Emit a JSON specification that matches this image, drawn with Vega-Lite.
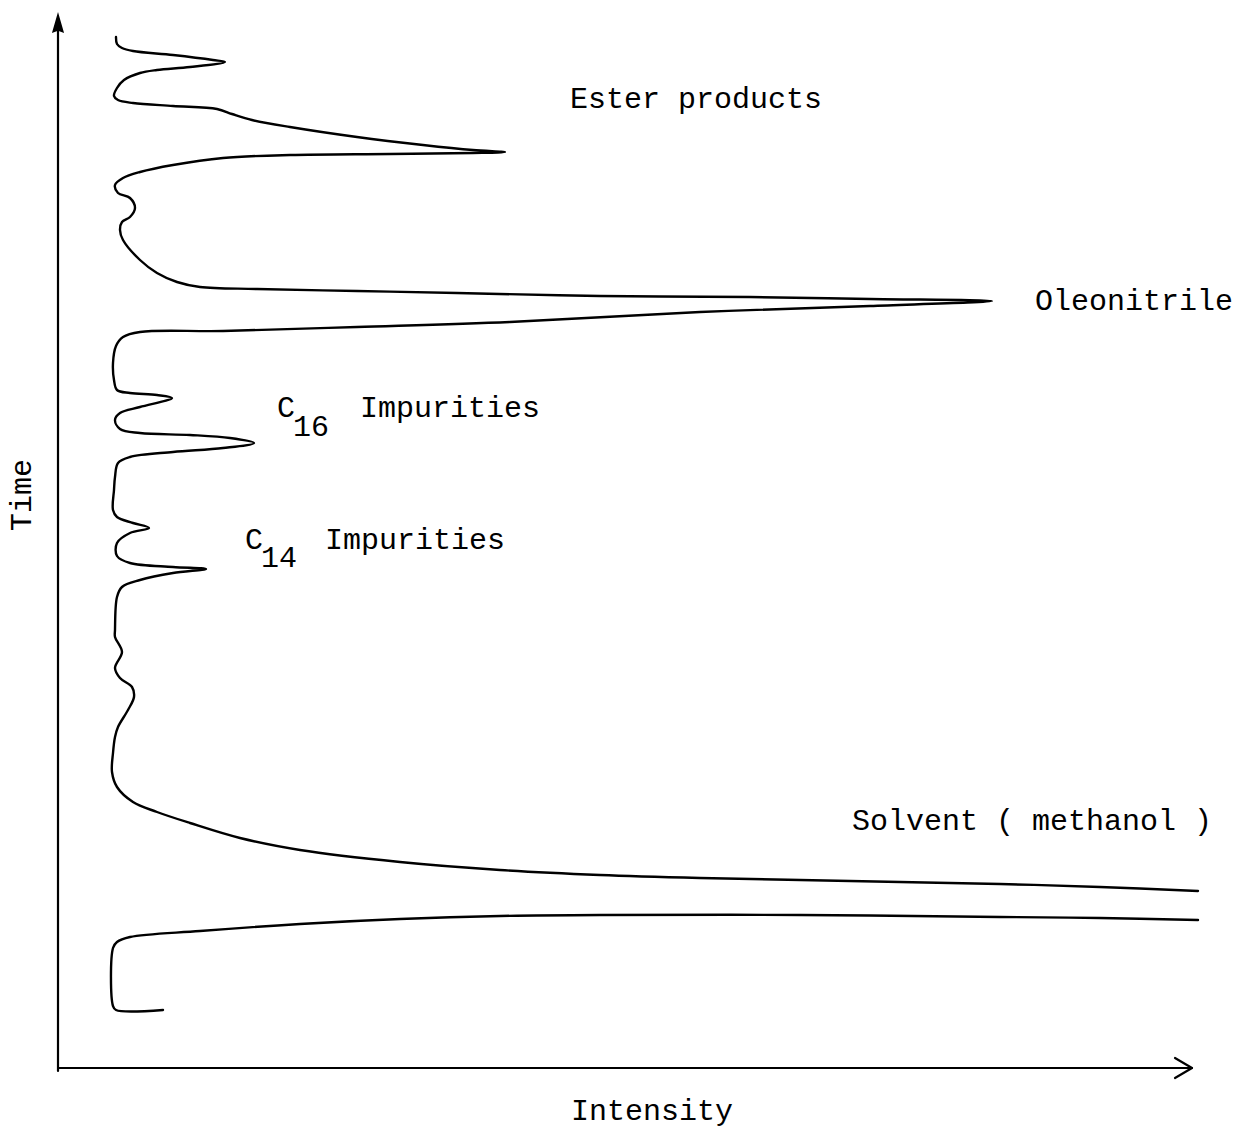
{
  "$schema": "https://vega.github.io/schema/vega-lite/v6.json",
  "width": 1242,
  "height": 1131,
  "autosize": {"type": "fit", "contains": "padding"},
  "padding": 0,
  "background": "white",
  "config": {"view": {"stroke": null}},
  "datasets": {
    "trace": [
      {"seg": "a", "i": 1, "intensity": 58, "time": 1031},
      {"seg": "a", "i": 2, "intensity": 59, "time": 1024},
      {"seg": "a", "i": 3, "intensity": 64, "time": 1020},
      {"seg": "a", "i": 4, "intensity": 75, "time": 1017},
      {"seg": "a", "i": 5, "intensity": 115, "time": 1013},
      {"seg": "a", "i": 6, "intensity": 155, "time": 1008},
      {"seg": "a", "i": 7, "intensity": 167, "time": 1006},
      {"seg": "a", "i": 8, "intensity": 132, "time": 1001},
      {"seg": "a", "i": 9, "intensity": 99, "time": 998},
      {"seg": "a", "i": 10, "intensity": 82, "time": 995},
      {"seg": "a", "i": 11, "intensity": 66, "time": 988},
      {"seg": "a", "i": 12, "intensity": 59, "time": 980},
      {"seg": "a", "i": 13, "intensity": 56, "time": 972},
      {"seg": "a", "i": 14, "intensity": 60, "time": 968},
      {"seg": "a", "i": 15, "intensity": 75, "time": 965},
      {"seg": "a", "i": 16, "intensity": 115, "time": 962},
      {"seg": "a", "i": 17, "intensity": 159, "time": 959},
      {"seg": "a", "i": 18, "intensity": 174, "time": 954},
      {"seg": "a", "i": 19, "intensity": 194, "time": 948},
      {"seg": "a", "i": 20, "intensity": 232, "time": 941},
      {"seg": "a", "i": 21, "intensity": 299, "time": 931},
      {"seg": "a", "i": 22, "intensity": 365, "time": 923},
      {"seg": "a", "i": 23, "intensity": 415, "time": 918},
      {"seg": "a", "i": 24, "intensity": 447, "time": 916},
      {"seg": "a", "i": 25, "intensity": 415, "time": 915},
      {"seg": "a", "i": 26, "intensity": 332, "time": 914},
      {"seg": "a", "i": 27, "intensity": 232, "time": 913},
      {"seg": "a", "i": 28, "intensity": 165, "time": 910},
      {"seg": "a", "i": 29, "intensity": 115, "time": 903},
      {"seg": "a", "i": 30, "intensity": 82, "time": 896},
      {"seg": "a", "i": 31, "intensity": 65, "time": 890},
      {"seg": "a", "i": 32, "intensity": 57, "time": 883},
      {"seg": "a", "i": 33, "intensity": 60, "time": 875},
      {"seg": "a", "i": 34, "intensity": 72, "time": 870},
      {"seg": "a", "i": 35, "intensity": 77, "time": 860},
      {"seg": "a", "i": 36, "intensity": 72, "time": 851},
      {"seg": "a", "i": 37, "intensity": 64, "time": 846},
      {"seg": "a", "i": 38, "intensity": 62, "time": 838},
      {"seg": "a", "i": 39, "intensity": 65, "time": 828},
      {"seg": "a", "i": 40, "intensity": 82, "time": 808},
      {"seg": "a", "i": 41, "intensity": 99, "time": 795},
      {"seg": "a", "i": 42, "intensity": 119, "time": 786},
      {"seg": "a", "i": 43, "intensity": 142, "time": 781},
      {"seg": "a", "i": 44, "intensity": 199, "time": 779},
      {"seg": "a", "i": 45, "intensity": 299, "time": 777},
      {"seg": "a", "i": 46, "intensity": 399, "time": 775},
      {"seg": "a", "i": 47, "intensity": 542, "time": 772},
      {"seg": "a", "i": 48, "intensity": 692, "time": 771},
      {"seg": "a", "i": 49, "intensity": 812, "time": 769},
      {"seg": "a", "i": 50, "intensity": 934, "time": 767},
      {"seg": "a", "i": 51, "intensity": 812, "time": 762},
      {"seg": "a", "i": 52, "intensity": 642, "time": 756},
      {"seg": "a", "i": 53, "intensity": 452, "time": 746},
      {"seg": "a", "i": 54, "intensity": 299, "time": 741},
      {"seg": "a", "i": 55, "intensity": 165, "time": 737},
      {"seg": "a", "i": 56, "intensity": 82, "time": 736},
      {"seg": "a", "i": 57, "intensity": 65, "time": 731},
      {"seg": "a", "i": 58, "intensity": 58, "time": 722},
      {"seg": "a", "i": 59, "intensity": 55, "time": 705},
      {"seg": "a", "i": 60, "intensity": 56, "time": 688},
      {"seg": "a", "i": 61, "intensity": 59, "time": 678},
      {"seg": "a", "i": 62, "intensity": 72, "time": 675},
      {"seg": "a", "i": 63, "intensity": 99, "time": 673},
      {"seg": "a", "i": 64, "intensity": 114, "time": 670},
      {"seg": "a", "i": 65, "intensity": 82, "time": 661},
      {"seg": "a", "i": 66, "intensity": 62, "time": 655},
      {"seg": "a", "i": 67, "intensity": 57, "time": 648},
      {"seg": "a", "i": 68, "intensity": 62, "time": 639},
      {"seg": "a", "i": 69, "intensity": 82, "time": 635},
      {"seg": "a", "i": 70, "intensity": 132, "time": 633},
      {"seg": "a", "i": 71, "intensity": 172, "time": 630},
      {"seg": "a", "i": 72, "intensity": 196, "time": 625},
      {"seg": "a", "i": 73, "intensity": 165, "time": 620},
      {"seg": "a", "i": 74, "intensity": 115, "time": 616},
      {"seg": "a", "i": 75, "intensity": 72, "time": 611},
      {"seg": "a", "i": 76, "intensity": 60, "time": 605},
      {"seg": "a", "i": 77, "intensity": 57, "time": 591},
      {"seg": "a", "i": 78, "intensity": 56, "time": 578},
      {"seg": "a", "i": 79, "intensity": 55, "time": 558},
      {"seg": "a", "i": 80, "intensity": 59, "time": 551},
      {"seg": "a", "i": 81, "intensity": 75, "time": 545},
      {"seg": "a", "i": 82, "intensity": 91, "time": 540},
      {"seg": "a", "i": 83, "intensity": 72, "time": 535},
      {"seg": "a", "i": 84, "intensity": 59, "time": 525},
      {"seg": "a", "i": 85, "intensity": 59, "time": 512},
      {"seg": "a", "i": 86, "intensity": 72, "time": 505},
      {"seg": "a", "i": 87, "intensity": 115, "time": 501},
      {"seg": "a", "i": 88, "intensity": 148, "time": 499},
      {"seg": "a", "i": 89, "intensity": 115, "time": 495},
      {"seg": "a", "i": 90, "intensity": 82, "time": 488},
      {"seg": "a", "i": 91, "intensity": 64, "time": 481},
      {"seg": "a", "i": 92, "intensity": 59, "time": 471},
      {"seg": "a", "i": 93, "intensity": 57, "time": 438},
      {"seg": "a", "i": 94, "intensity": 57, "time": 431},
      {"seg": "a", "i": 95, "intensity": 64, "time": 416},
      {"seg": "a", "i": 96, "intensity": 57, "time": 400},
      {"seg": "a", "i": 97, "intensity": 62, "time": 390},
      {"seg": "a", "i": 98, "intensity": 74, "time": 381},
      {"seg": "a", "i": 99, "intensity": 76, "time": 371},
      {"seg": "a", "i": 100, "intensity": 70, "time": 358},
      {"seg": "a", "i": 101, "intensity": 60, "time": 341},
      {"seg": "a", "i": 102, "intensity": 57, "time": 331},
      {"seg": "a", "i": 103, "intensity": 55, "time": 315},
      {"seg": "a", "i": 104, "intensity": 54, "time": 296},
      {"seg": "a", "i": 105, "intensity": 59, "time": 281},
      {"seg": "a", "i": 106, "intensity": 75, "time": 266},
      {"seg": "a", "i": 107, "intensity": 99, "time": 256},
      {"seg": "a", "i": 108, "intensity": 132, "time": 245},
      {"seg": "a", "i": 109, "intensity": 182, "time": 230},
      {"seg": "a", "i": 110, "intensity": 242, "time": 218},
      {"seg": "a", "i": 111, "intensity": 342, "time": 206},
      {"seg": "a", "i": 112, "intensity": 442, "time": 198},
      {"seg": "a", "i": 113, "intensity": 542, "time": 193},
      {"seg": "a", "i": 114, "intensity": 642, "time": 190},
      {"seg": "a", "i": 115, "intensity": 742, "time": 188},
      {"seg": "a", "i": 116, "intensity": 842, "time": 186},
      {"seg": "a", "i": 117, "intensity": 942, "time": 184},
      {"seg": "a", "i": 118, "intensity": 1042, "time": 181},
      {"seg": "a", "i": 119, "intensity": 1140, "time": 177},
      {"seg": "b", "i": 120, "intensity": 1140, "time": 148},
      {"seg": "b", "i": 121, "intensity": 1042, "time": 150},
      {"seg": "b", "i": 122, "intensity": 942, "time": 151},
      {"seg": "b", "i": 123, "intensity": 742, "time": 153},
      {"seg": "b", "i": 124, "intensity": 542, "time": 153},
      {"seg": "b", "i": 125, "intensity": 442, "time": 152},
      {"seg": "b", "i": 126, "intensity": 342, "time": 149},
      {"seg": "b", "i": 127, "intensity": 242, "time": 144},
      {"seg": "b", "i": 128, "intensity": 142, "time": 137},
      {"seg": "b", "i": 129, "intensity": 72, "time": 131},
      {"seg": "b", "i": 130, "intensity": 59, "time": 126},
      {"seg": "b", "i": 131, "intensity": 55, "time": 120},
      {"seg": "b", "i": 132, "intensity": 55, "time": 62},
      {"seg": "b", "i": 133, "intensity": 58, "time": 58},
      {"seg": "b", "i": 134, "intensity": 105, "time": 58}
    ],
    "axes": [
      {"seg": "yaxis", "i": 1, "intensity": 0, "time": -3},
      {"seg": "yaxis", "i": 2, "intensity": 0, "time": 1040},
      {"seg": "xaxis", "i": 1, "intensity": 0, "time": 0},
      {"seg": "xaxis", "i": 2, "intensity": 1134, "time": 0},
      {"seg": "xarrow", "i": 1, "intensity": 1117, "time": 10},
      {"seg": "xarrow", "i": 2, "intensity": 1134, "time": 0},
      {"seg": "xarrow", "i": 3, "intensity": 1117, "time": -10}
    ],
    "yarrow": [
      {"intensity": 0, "time": 1045}
    ],
    "labels": [
      {"label": "Ester products", "intensity": 512, "time": 969},
      {"label": "Oleonitrile", "intensity": 977, "time": 767},
      {"label": "C", "intensity": 219, "time": 660},
      {"label": "16", "intensity": 235, "time": 641},
      {"label": "Impurities", "intensity": 302, "time": 660},
      {"label": "C", "intensity": 187, "time": 528},
      {"label": "14", "intensity": 203, "time": 510},
      {"label": "Impurities", "intensity": 267, "time": 528},
      {"label": "Solvent ( methanol )", "intensity": 794, "time": 247},
      {"label": "Intensity", "intensity": 513, "time": -43}
    ],
    "ytitle": [
      {"label": "Time", "intensity": -36, "time": 573}
    ]
  },
  "encoding": {
    "x": {"field": "intensity", "type": "quantitative", "scale": {"domain": [-58, 1184], "nice": false, "zero": false}, "axis": null},
    "y": {"field": "time", "type": "quantitative", "scale": {"domain": [-63, 1068], "nice": false, "zero": false}, "axis": null}
  },
  "layer": [
    {
      "data": {"name": "axes"},
      "mark": {"type": "line", "color": "black", "strokeWidth": 2.2, "strokeCap": "round", "strokeJoin": "round"},
      "encoding": {"detail": {"field": "seg"}, "order": {"field": "i"}}
    },
    {
      "data": {"name": "yarrow"},
      "mark": {"type": "point", "shape": "M0,-1L0.55,0.9L0,0.7L-0.55,0.9Z", "filled": true, "color": "black", "size": 484, "opacity": 1}
    },
    {
      "data": {"name": "trace"},
      "mark": {"type": "line", "color": "black", "strokeWidth": 2.4, "strokeCap": "round", "strokeJoin": "round", "interpolate": "catmull-rom"},
      "encoding": {"detail": {"field": "seg"}, "order": {"field": "i"}}
    },
    {
      "data": {"name": "labels"},
      "mark": {"type": "text", "align": "left", "baseline": "middle", "font": "Liberation Mono", "fontSize": 30, "fontWeight": "normal", "color": "black"},
      "encoding": {"text": {"field": "label"}}
    },
    {
      "data": {"name": "ytitle"},
      "mark": {"type": "text", "align": "center", "baseline": "middle", "angle": 270, "font": "Liberation Mono", "fontSize": 30, "fontWeight": "normal", "color": "black"},
      "encoding": {"text": {"field": "label"}}
    }
  ]
}
